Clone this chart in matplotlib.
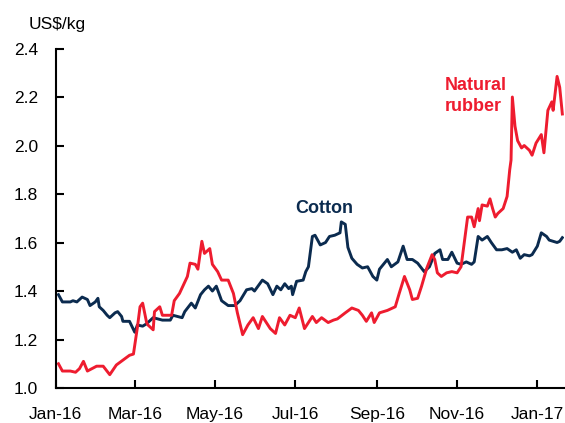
#!/usr/bin/env python3

import matplotlib

matplotlib.use("Agg")
import matplotlib.dates as mdates
import matplotlib.pyplot as plt
import pandas as pd

START = pd.Timestamp("2016-01-01")

# days since 1 Jan 2016
cotton_days = [
    2, 5, 11, 13, 16, 20, 24, 26, 30, 32, 33, 36, 39, 41, 45, 47, 50, 51, 56, 60,
    62, 66, 69, 74, 81, 87, 89, 96, 98, 103, 106, 110, 113, 116, 119, 122, 126,
    131, 136, 140, 145, 149, 151, 157, 161, 165, 168, 171, 174, 177, 179, 180,
    183, 188, 190, 192, 195, 197, 201, 205, 208, 212, 216, 217, 220, 222, 225,
    229, 233, 237, 241, 244, 246, 252, 255, 260, 264, 267, 271, 275, 280, 284,
    288, 292, 294, 298, 301, 305, 308, 312, 316, 318, 321, 324, 328, 331, 335,
    339, 343, 347, 350, 353, 356, 360, 362, 366, 369, 373, 375, 381, 383, 385,
]
cotton_price = [
    1.385, 1.355, 1.355, 1.36, 1.355, 1.375, 1.365, 1.34, 1.355, 1.37, 1.335,
    1.32, 1.30, 1.29, 1.31, 1.315, 1.295, 1.275, 1.275, 1.23, 1.26, 1.255,
    1.265, 1.29, 1.28, 1.28, 1.30, 1.29, 1.315, 1.35, 1.33, 1.385, 1.405, 1.42,
    1.40, 1.42, 1.36, 1.34, 1.34, 1.36, 1.405, 1.41, 1.40, 1.445, 1.43, 1.385,
    1.42, 1.405, 1.43, 1.41, 1.42, 1.385, 1.44, 1.445, 1.48, 1.50, 1.625, 1.63,
    1.59, 1.60, 1.625, 1.63, 1.64, 1.685, 1.675, 1.58, 1.535, 1.51, 1.495,
    1.50, 1.46, 1.445, 1.49, 1.53, 1.50, 1.52, 1.585, 1.53, 1.53, 1.515, 1.48,
    1.50, 1.555, 1.57, 1.53, 1.53, 1.56, 1.515, 1.51, 1.52, 1.51, 1.52, 1.625,
    1.61, 1.625, 1.60, 1.57, 1.57, 1.575, 1.56, 1.57, 1.535, 1.55, 1.545, 1.55,
    1.585, 1.64, 1.625, 1.61, 1.60, 1.605, 1.62,
]

rubber_days = [
    2, 5, 11, 15, 18, 21, 24, 31, 36, 41, 46, 51, 56, 59, 62, 64, 66, 69, 70,
    74, 75, 79, 81, 88, 90, 94, 100, 102, 106, 108, 111, 113, 117, 119, 123,
    126, 131, 135, 138, 142, 146, 150, 154, 157, 163, 167, 170, 174, 178, 182,
    185, 189, 195, 198, 202, 207, 211, 214, 220, 225, 230, 233, 236, 240, 242,
    246, 252, 258, 261, 265, 269, 271, 275, 278, 282, 286, 288, 290, 293, 297,
    301, 305, 308, 309, 313, 316, 318, 321, 322, 324, 328, 330, 332, 334, 336,
    340, 343, 345, 346, 347, 349, 351, 354, 356, 360, 362, 365, 369, 371, 374,
    377, 378, 381, 383, 385,
]
rubber_price = [
    1.10, 1.07, 1.07, 1.065, 1.08, 1.11, 1.07, 1.09, 1.09, 1.055, 1.095, 1.115,
    1.135, 1.14, 1.25, 1.335, 1.35, 1.27, 1.26, 1.24, 1.315, 1.335, 1.30, 1.30,
    1.36, 1.39, 1.46, 1.515, 1.51, 1.49, 1.605, 1.555, 1.575, 1.51, 1.48,
    1.445, 1.445, 1.39, 1.31, 1.22, 1.26, 1.29, 1.245, 1.295, 1.245, 1.225,
    1.29, 1.26, 1.30, 1.29, 1.33, 1.245, 1.295, 1.27, 1.29, 1.27, 1.28, 1.285,
    1.31, 1.33, 1.32, 1.30, 1.275, 1.31, 1.27, 1.31, 1.32, 1.335, 1.39, 1.46,
    1.405, 1.365, 1.37, 1.42, 1.495, 1.55, 1.53, 1.475, 1.46, 1.475, 1.48,
    1.475, 1.50, 1.54, 1.705, 1.705, 1.665, 1.74, 1.69, 1.755, 1.75, 1.78,
    1.74, 1.705, 1.72, 1.74, 1.79, 1.90, 1.94, 2.20, 2.08, 2.02, 1.99, 2.00,
    1.98, 1.96, 2.01, 2.045, 1.97, 2.145, 2.18, 2.145, 2.285, 2.24, 2.13,
]

NAVY = "#0B2B4F"
RED = "#EE1C2F"


def to_dates(days):
    return START + pd.to_timedelta(days, unit="D")


plt.rcParams["font.family"] = ["Liberation Sans", "DejaVu Sans"]

fig = plt.figure(figsize=(5.65, 4.23), dpi=100)
ax = fig.add_axes([0.0988, 0.0827, 0.9, 0.8026])

ax.plot(to_dates(cotton_days), cotton_price, color=NAVY, lw=2.1)
ax.plot(to_dates(rubber_days), rubber_price, color=RED, lw=2.1)

ax.set_ylim(1.0, 2.4)
ax.set_yticks([1.0, 1.2, 1.4, 1.6, 1.8, 2.0, 2.2, 2.4])
ax.yaxis.set_major_formatter(plt.FormatStrFormatter("%.1f"))
ax.set_xlim(START, START + pd.Timedelta(days=386.5))
ax.xaxis.set_major_locator(mdates.MonthLocator(bymonth=[1, 3, 5, 7, 9, 11]))
ax.xaxis.set_major_formatter(mdates.DateFormatter("%b-%y"))

for side in ("top", "right"):
    ax.spines[side].set_visible(False)
for side in ("left", "bottom"):
    ax.spines[side].set_linewidth(1.5)
ax.tick_params(direction="in", length=6, width=1.5, labelsize=12.5, colors="black")
ax.tick_params(axis="y", pad=13)
ax.tick_params(axis="x", pad=14)

ax.text(0.527, 0.53, "Cotton", transform=ax.transAxes, color=NAVY,
        fontsize=13, fontweight="bold", ha="center", va="center")
ax.text(0.764, 0.86, "Natural\nrubber", transform=ax.transAxes, color=RED,
        fontsize=13, fontweight="bold", ha="left", va="center",
        linespacing=1.3)
fig.text(0.05, 0.941, "US$/kg", fontsize=12.5, ha="left", va="center")

fig.savefig("out.png", dpi=100)
